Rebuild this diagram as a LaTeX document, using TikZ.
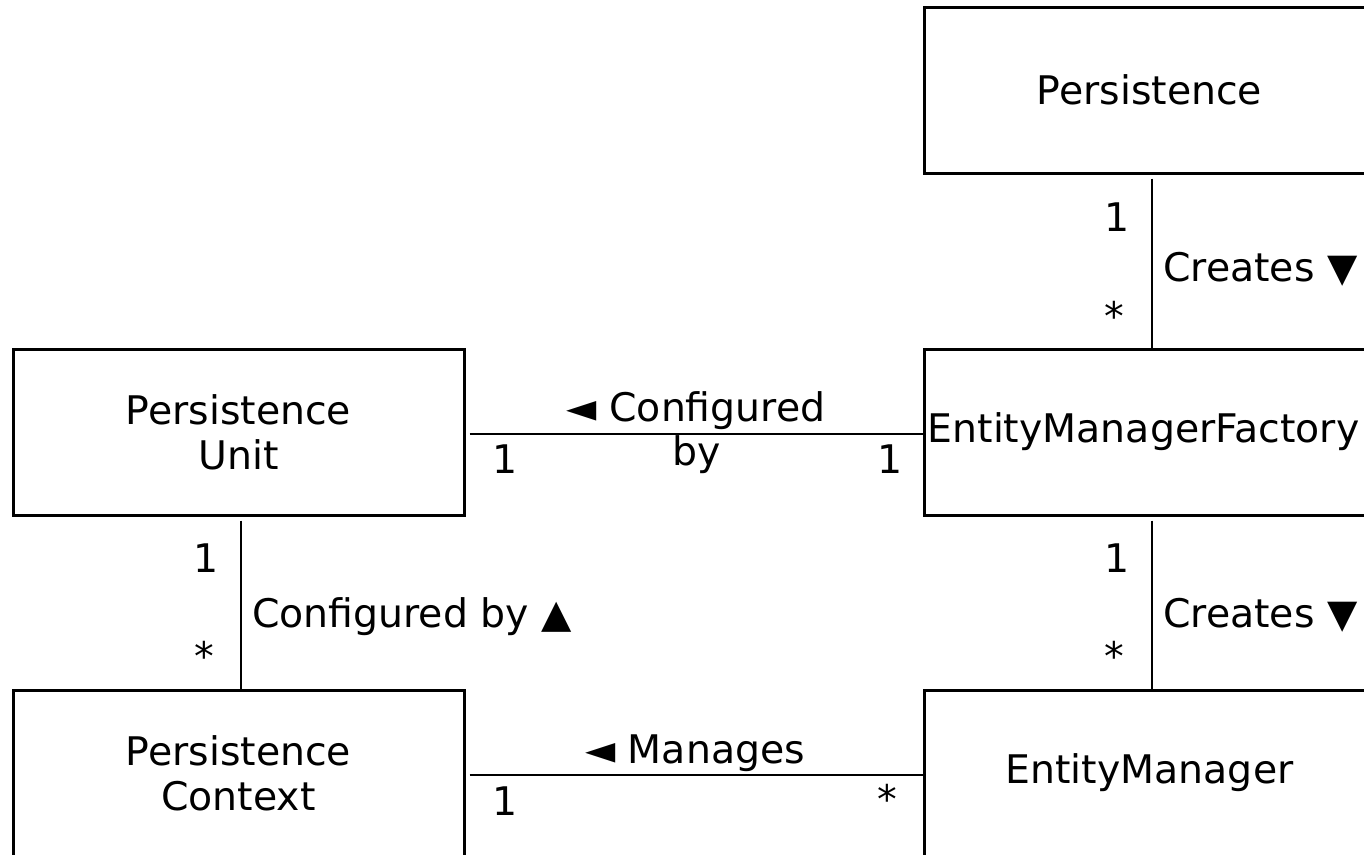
\documentclass[tikz,border=0pt]{standalone}
\usepackage{fontspec}
\setmainfont{DejaVu Sans}
\begin{document}
\begin{tikzpicture}[x=1pt,y=-1pt,
  cls/.style={draw, line width=3pt, minimum width=451pt, minimum height=166pt,
    align=center, inner sep=0pt, font=\fontsize{39.4}{45}\selectfont},
  assoc/.style={line width=2.4pt},
  lbl/.style={inner sep=0pt, font=\fontsize{39.4}{44}\selectfont},
]
\useasboundingbox (0,0) rectangle (1364,854);

% classes
\node[cls] (pers) at (1149.5,90)  {Persistence};
\node[cls] (emf)  at (1149.5,432) {\hspace*{-12pt}EntityManagerFactory};
\node[cls] (em)   at (1149.5,773) {EntityManager};
\node[cls] (pu)   at (238.5,432)  {Persistence\\Unit};
\node[cls] (pc)   at (238.5,773)  {Persistence\\Context};

% associations
\draw[assoc] ([shift={(2.5,4)}]pers.south) -- ([xshift=2.5pt]emf.north);
\draw[assoc] ([shift={(2.5,4)}]emf.south)  -- ([xshift=2.5pt]em.north);
\draw[assoc] ([shift={(2.5,4)}]pu.south)   -- ([xshift=2.5pt]pc.north);
\draw[assoc] ([shift={(4,2)}]pu.east)      -- ([yshift=-2pt]emf.west);
\draw[assoc] ([shift={(4,2)}]pc.east)      -- ([yshift=-2pt]em.west);

% Persistence -- EntityManagerFactory
\node[lbl, anchor=base] (m1) at (1117,231) {1};
\node[lbl, anchor=center] (m2) at (1114,316) {*};
\node[lbl, anchor=base west] (a1) at (1163,281) {Creates ▼};

% EntityManagerFactory -- EntityManager
\node[lbl, anchor=base] (m3) at (1117,572) {1};
\node[lbl, anchor=center] (m4) at (1114,656) {*};
\node[lbl, anchor=base west] (a2) at (1163,627) {Creates ▼};

% PersistenceUnit -- PersistenceContext
\node[lbl, anchor=base] (m5) at (206,572) {1};
\node[lbl, anchor=center] (m6) at (204,656) {*};
\node[lbl, anchor=base west] (a3) at (252,627) {Configured by ▲};

% PersistenceUnit -- EntityManagerFactory
\node[lbl, anchor=base] (a4) at (696,421) {◄ Configured};
\node[lbl, anchor=base] (a4b) at (697,465) {by};
\node[lbl, anchor=base] (m7) at (505,473) {1};
\node[lbl, anchor=base] (m8) at (890,473) {1};

% PersistenceContext -- EntityManager
\node[lbl, anchor=base] (a5) at (695,763) {◄ Manages};
\node[lbl, anchor=base] (m9) at (505,815) {1};
\node[lbl, anchor=center] (m10) at (887,799) {*};
\end{tikzpicture}
\end{document}
